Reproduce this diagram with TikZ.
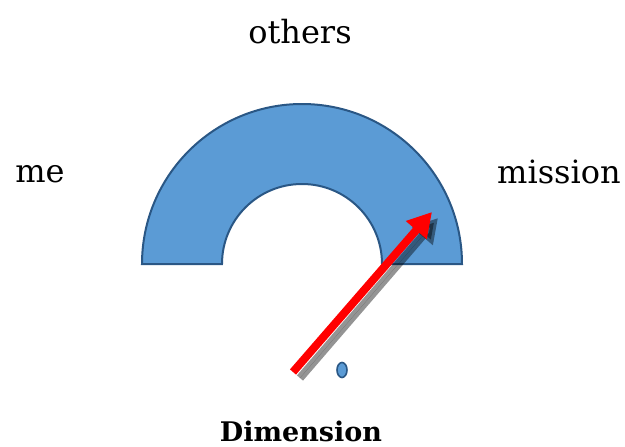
\documentclass[tikz,border=0pt]{standalone}
\usepackage{fontspec}
\setmainfont{DejaVu Serif}
\usetikzlibrary{arrows.meta,shapes.geometric}
\definecolor{gaugefill}{HTML}{5B9BD5}
\definecolor{gaugeline}{HTML}{2A5785}
\tikzset{
  gauge/.style={fill=gaugefill, draw=gaugeline, line width=2pt, line join=miter},
  lbl/.style={font=\fontsize{32}{36}\selectfont, anchor=base, inner sep=0pt},
  pointer/.style={line width=8pt, -{Triangle[length=24pt,width=26pt]}},
}
\begin{document}
\begin{tikzpicture}[x=1pt,y=-1pt]
\useasboundingbox (0,0) rectangle (625,447);
% gauge band
\path[gauge] (142,264) arc[start angle=180,end angle=0,radius=160pt]
  -- (382,264) arc[start angle=0,end angle=180,radius=80pt] -- cycle;
% labels
\node[lbl] (others) at (300,43) {others};
\node[lbl] (me) at (40,182) {me};
\node[lbl] (mission) at (559,183) {mission};
\node[lbl, font=\fontsize{27}{30}\selectfont\bfseries] (dim) at (301,441) {Dimension};
% small pivot ellipse
\node[gauge, ellipse, line width=1.6pt, minimum width=10pt, minimum height=15pt, inner sep=0pt] (pivot) at (342,370) {};
% pointer
\coordinate (tail) at (293,372);
\coordinate (tip) at (432,212);
\coordinate (stail) at (300,378);
\coordinate (stip) at (438,218);
\draw[pointer, draw=black, fill=black, opacity=0.42] (stail) -- (stip);
\draw[pointer, draw=red, fill=red] (tail) -- (tip);
\end{tikzpicture}
\end{document}
